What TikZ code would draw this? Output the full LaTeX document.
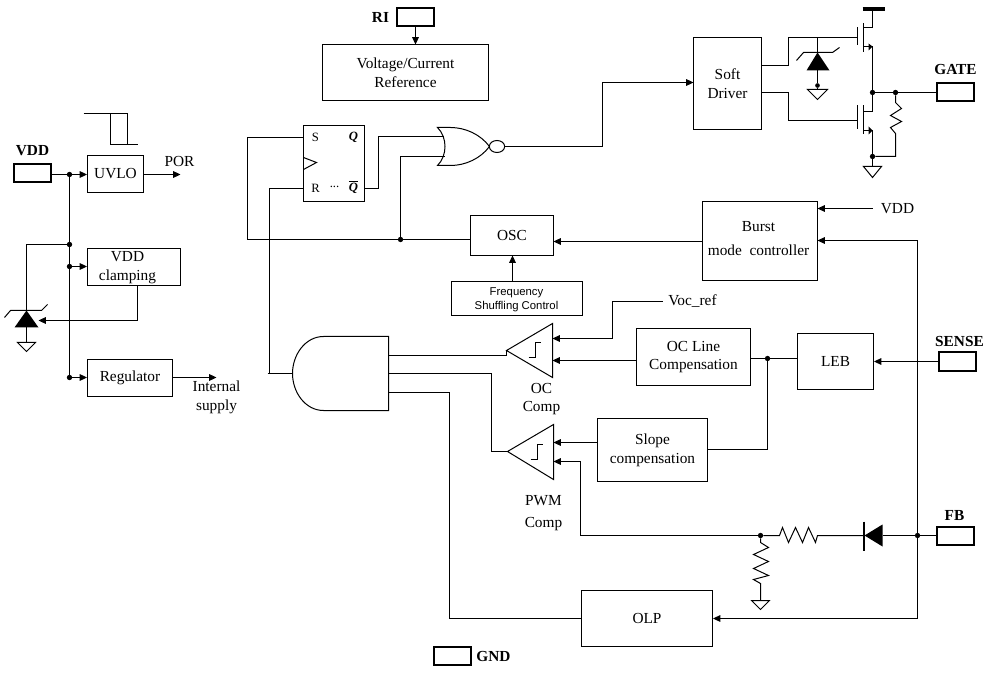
\documentclass[tikz,border=0pt]{standalone}
\usepackage{fontspec}
\setmainfont{Liberation Serif}
\setsansfont{Liberation Sans}
\usetikzlibrary{arrows.meta,calc,shapes.geometric}
\tikzset{
  x=0.75pt,y=-0.75pt,
  every node/.style={font=\fontsize{11.5}{14}\selectfont},
  wire/.style={line width=0.75pt,line join=miter},
  arr/.style={wire,-{Triangle[length=5.5pt,width=5pt]}},
  box/.style 2 args={draw,line width=0.75pt,inner sep=0pt,align=center,minimum width=#1*0.75pt,minimum height=#2*0.75pt},
  pin/.style={draw,line width=1.5pt,inner sep=0pt,minimum width=37*0.75pt,minimum height=18*0.75pt},
  dot/.style={circle,fill=black,inner sep=0pt,minimum size=4pt},
  lbl/.style={inner sep=0pt,align=center},
  blbl/.style={inner sep=0pt,font=\fontsize{11.5}{14}\selectfont\bfseries},
  gnd/.style={line width=0.75pt},
  sym/.style={line width=0.75pt,line join=miter},
  fflbl/.style={inner sep=0pt,font=\fontsize{9.5}{10}\selectfont},
  shuf/.style={lbl,font=\sffamily\fontsize{8.5}{10.5}\selectfont},
}
\begin{document}
\begin{tikzpicture}
\useasboundingbox (-0.5,-0.5) rectangle (991.5,672.5);
\fill[white] (-0.5,-0.5) rectangle (991.5,672.5);

% ---------- left column
\node[pin] (vddpin) at (31.5,173) {};
\node[blbl] (vddtxt) at (32,150) {VDD};
\node[box={56}{37}] (uvlo) at (115,173.5) {UVLO};
\node[box={93}{37}] (clamp) at (133.5,266.5) {};
\node[lbl] (clamptxt) at (127,267) {VDD\\clamping};
\node[box={85}{37}] (reg) at (129.5,377.5) {Regulator};
\node[lbl] (por) at (179,161) {POR};
\node[lbl] (intsup) at (216,397) {Internal\\supply};
\coordinate (porend) at (180,174);
\coordinate (regend) at (216,377);
\node[dot] (j1) at (69,174) {};
\node[dot] (j2) at (69,244) {};
\node[dot] (j3) at (69,266) {};
\node[dot] (j4) at (69,377) {};
\draw[wire] (vddpin.east |- j1) -- (j1);
\draw[arr] (j1) -- (uvlo.west |- j1);
\draw[wire] (j1) -- (j2);
\draw[wire] (j2) -- (j3);
\draw[wire] (j3) -- (j4);
\draw[arr] (j3) -- (clamp.west |- j3);
\draw[arr] (j4) -- (reg.west |- j4);
\draw[arr] (uvlo.east |- porend) -- (porend);
\draw[arr] (reg.east |- regend) -- (regend);
% pulse
\draw[sym] (83,113) -- (127,113) -- (127,144) (110,113) -- (110,144) -- (137,144);
% zener left
\coordinate (zlA) at (26,310);
\coordinate (zlB) at (26,327);
\coordinate (zlG) at (26,342);
\draw[wire] (j2) -| (zlA);
\fill (zlA) -- (38,327) -- (14,327) -- cycle;
\draw[sym] (4,317) -- (10,310) -- (41,310) -- (47,304);
\draw[wire] (zlB) -- (zlG);
\draw[gnd] (17,342) -- (35,342) -- (26,351) -- cycle;
\coordinate (clampout) at (137,285);
\coordinate (zlIn) at (38,320);
\draw[arr] (clampout) |- (zlIn);

% ---------- reference
\node[pin] (ripin) at (414.5,17) {};
\node[blbl] (ritxt) at (380,17) {RI};
\node[box={166}{56}] (vref) at (405,72) {Voltage/Current\\Reference};
\coordinate (vrefin) at (415,44);
\draw[arr] (ripin.south -| vrefin) -- (vrefin);

% ---------- flip-flop
\node[box={61}{76}] (ff) at (333.5,163) {};
\node[fflbl] (ffS) at (315,137) {S};
\node[fflbl] (ffQ) at (353,137) {\itshape\bfseries Q};
\node[fflbl] (ffR) at (315,188) {R};
\node[fflbl] (ffD) at (334,186) {...};
\node[fflbl] (ffNQ) at (353,187) {\itshape\bfseries$\overline{\mbox{Q}}$};
\draw[sym] (303,157) -- (316,162) -- (303,169);
% NOR gate
\draw[sym] (437,127) .. controls (447,137) and (447,155) .. (437,165)
  -- (450,165) .. controls (465,165) and (480,158) .. (489,146)
  .. controls (480,134) and (465,127) .. (450,127) -- cycle;
\node[draw,ellipse,line width=0.75pt,inner sep=0pt,minimum width=11.5pt,minimum height=9pt] (bub) at (496.5,146) {};
% boxes
\node[box={83}{40}] (osc) at (511.5,235) {OSC};
\node[box={115}{79}] (burst) at (759.5,240.5) {};
\node[lbl] (bursttxt) at (758,238) {Burst\\[4pt]mode\ \ controller};
\node[box={131}{34}] (freq) at (516.5,298) {};
\node[shuf] (freqtxt) at (516,299) {Frequency\\Shuffling Control};
\node[box={68}{92}] (soft) at (727,83) {Soft\\Driver};
\coordinate (inS) at (303,137);
\coordinate (inR) at (303,188);
\coordinate (outNQ) at (364,188);
\coordinate (norA) at (443,136);
\coordinate (norB) at (444,156);
\node[dot] (j5) at (400,239) {};
\coordinate (oscW) at (470,239);
\coordinate (oscE) at (553,241);
\coordinate (burstW) at (702,241);
\coordinate (oscS) at (512,255);
\coordinate (freqN) at (512,281);
\draw[wire] (oscW) -- (j5);
\draw[wire] (j5) -- (247,239) -- (247,137) -- (inS);
\draw[wire] (j5) |- (norB);
\draw[wire] (outNQ) -- (378,188) -- (378,136) -- (norA);
\coordinate (softIn) at (693,82);
\draw[arr] (bub.east |- 0,146) -- (602,146) -- (602,82) -- (softIn);
\draw[arr] (burstW) -- (oscE);
\draw[arr] (freqN) -- (oscS);
\node[lbl] (vddr) at (897,208) {VDD};
\coordinate (burstV) at (817,208);
\coordinate (vddrE) at (872,208);
\draw[arr] (vddrE) -- (burstV);

% ---------- driver
\node[pin] (gatepin) at (954.5,92) {};
\node[blbl] (gatetxt) at (955,69) {GATE};
\coordinate (softA) at (761,65);
\coordinate (softB) at (761,92);
\coordinate (gHi) at (857,37);
\coordinate (gLo) at (857,120);
\draw[wire] (softA) -- (788,65) -- (788,37) -- (gHi);
\draw[wire] (softB) -- (788,92) -- (788,120) -- (gLo);
\node[dot] (j6) at (872,92) {};
\node[dot] (j7) at (895,92) {};
\node[dot] (j8) at (872,156) {};
\draw[wire] (j6) -- (j7);
\draw[wire] (j7) -- (gatepin.west);
% upper FET
\draw[sym] (857,27) -- (857,45);
\draw[line width=1pt] (863,23) -- (863,52);
\draw[wire] (863,27) -- (872,27) -- (872,10);
\draw[line width=3pt] (862,9) -- (884,9);
\draw[wire] (872,46) -- (863,46);
\fill (868,43) -- (872,46) -- (868,50) -- cycle;
\draw[wire] (872,46) -- (j6);
% lower FET
\draw[sym] (857,105) -- (857,129);
\draw[line width=1pt] (863,105) -- (863,134);
\draw[wire] (863,111) -- (872,111) -- (j6);
\draw[wire] (j8) -- (872,130) -- (863,130);
\fill (868,126) -- (872,130) -- (868,134) -- cycle;
% gate resistor
\draw[sym] (j7) -- (895,102) -- (901,108) -- (890,115) -- (901,121) -- (890,127) -- (895,133) -- (895,156) -- (j8);
\draw[wire] (j8) -- (872,166);
\draw[gnd] (863,166) -- (881,166) -- (872,177) -- cycle;
% zener driver
\coordinate (zrT) at (817,37);
\coordinate (zrA) at (817,52);
\node[dot,minimum size=3.5pt] (zrJ) at (817,85) {};
\draw[wire] (zrT) -- (zrA);
\fill (zrA) -- (829,70) -- (806,70) -- cycle;
\draw[sym] (796,60) -- (803,52) -- (832,52) -- (839,47);
\draw[wire] (817,70) -- (zrJ);
\draw[wire] (zrJ) -- (817,89);
\draw[gnd] (807,89) -- (827,89) -- (817,99) -- cycle;

% ---------- AND gate
\draw[sym] (388,336) -- (323,336) .. controls (305,336) and (292,354) .. (292,373)
  .. controls (292,392) and (305,410) .. (323,410) -- (388,410) -- cycle;
\coordinate (andL) at (292,373);
\draw[wire] (inR) -- (269,188) -- (269,373) -- (andL);
\draw[wire] (267,373) -- (andL);

% comparators
\draw[sym] (506,350) -- (552,323) -- (552,377) -- cycle;
\draw[sym] (528,357) -- (535,357) -- (535,342) -- (540,342);
\draw[sym] (507,451) -- (553,424) -- (553,479) -- cycle;
\draw[sym] (530,459) -- (537,459) -- (537,444) -- (542,444);
\node[lbl] (octxt) at (541,398.5) {OC\\Comp};
\node[lbl] (pwmtxt) at (543,512.5) {PWM\\[2pt]Comp};
\coordinate (ocT) at (506,350);
\coordinate (pwmT) at (507,451);
\draw[wire] (388,355) -- (506,355) -- (ocT);
\draw[wire] (388,373) -- (491,373) -- (491,451) -- (pwmT);

% OC inputs and blocks
\node[lbl] (vocref) at (692,301) {Voc\_ref};
\coordinate (vocE) at (662,301);
\coordinate (ocIn1) at (552,338);
\coordinate (ocIn2) at (552,360);
\draw[arr] (vocE) -- (612,301) -- (612,338) -- (ocIn1);
\node[box={114}{57}] (ocl) at (693,356.5) {OC Line\\Compensation};
\node[box={76}{56}] (leb) at (835,361) {LEB};
\node[box={110}{63}] (slope) at (652,449.5) {Slope\\compensation};
\node[pin] (sensepin) at (956.5,361) {};
\node[blbl] (sensetxt) at (959,341) {SENSE};
\coordinate (oclW) at (636,360);
\draw[arr] (oclW) -- (ocIn2);
\draw[arr] (sensepin.west) -- (leb.east |- sensepin.west);
\node[dot] (j9) at (767,358) {};
\coordinate (oclE) at (750,358);
\coordinate (lebW) at (797,358);
\draw[wire] (oclE) -- (j9);
\draw[wire] (j9) -- (lebW);
\coordinate (slopeE) at (707,449);
\draw[wire] (j9) |- (slopeE);
\coordinate (slopeW) at (597,442);
\coordinate (pwmIn1) at (553,442);
\coordinate (pwmIn2) at (553,461);
\draw[arr] (slopeW) -- (pwmIn1);

% FB
\node[pin] (fbpin) at (954.5,535) {};
\node[blbl] (fbtxt) at (954,515) {FB};
\node[dot] (j10) at (917,535) {};
\node[dot] (j11) at (760,535) {};
\draw[wire] (fbpin.west) -- (j10);
\coordinate (dioA) at (882,535);
\coordinate (dioK) at (864,535);
\draw[wire] (j10) -- (dioA);
\fill (dioK) -- (882,524) -- (882,546) -- cycle;
\draw[line width=1.5pt] (863,521) -- (863,550);
\draw[sym] (dioK) -- (817,535) -- (815,542) -- (808,527) -- (802,542) -- (795,527) -- (788,542) -- (782,527) -- (779,535) -- (j11);
\draw[arr] (j11) -- (580,535) -- (580,461) -- (pwmIn2);
\draw[sym] (j11) -- (760,542) -- (768,547) -- (753,554) -- (768,561) -- (753,568) -- (768,575) -- (753,579) -- (760,583) -- (760,600);
\draw[gnd] (751,600) -- (769,600) -- (760,609) -- cycle;
% OLP
\node[box={131}{56}] (olp) at (646.5,618) {OLP};
\coordinate (burstE) at (817,240);
\draw[arr] (j10) -- (917,240) -- (burstE);
\draw[arr] (j10) -- (917,618) -- (olp.east);
\draw[wire] (olp.west) -- (449,618) -- (449,392) -- (388,392);
% GND
\node[pin] (gndpin) at (452,655) {};
\node[blbl] (gndtxt) at (493,656) {GND};
\end{tikzpicture}
\end{document}
